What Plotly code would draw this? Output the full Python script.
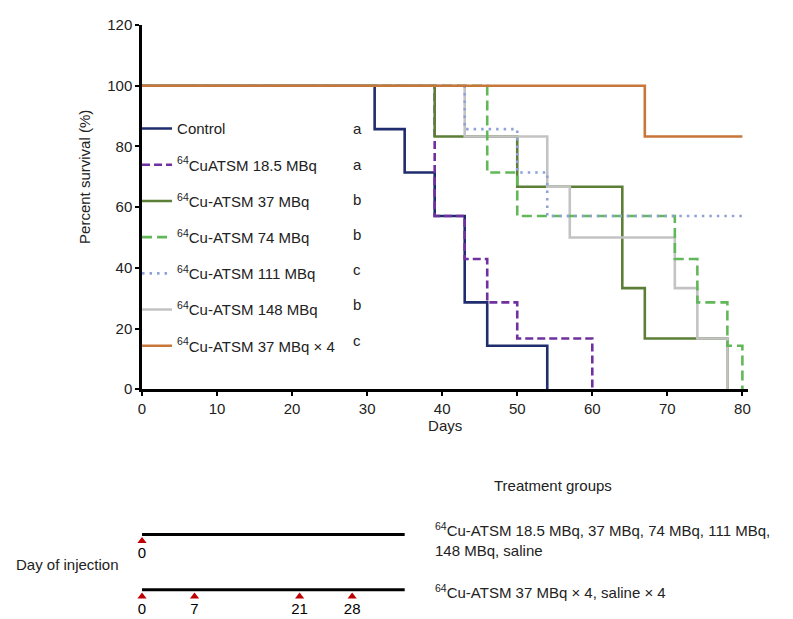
import plotly.graph_objects as go

# ── Survival data (step values) ──────────────────────────────────────────────

control_days = [0, 31, 35, 39, 43, 46, 54]
control_surv = [100, 85.7, 71.4, 57.1, 28.6, 14.3, 0]

cu18_days = [0, 39, 43, 46, 50, 60]
cu18_surv = [100, 57.1, 42.9, 28.6, 16.7, 0]

cu37_days = [0, 39, 50, 64, 67, 78]
cu37_surv = [100, 83.3, 66.7, 33.3, 16.7, 0]

cu74_days = [0, 46, 50, 71, 74, 78, 80]
cu74_surv = [100, 71.4, 57.1, 42.9, 28.6, 14.3, 0]

cu111_days = [0, 43, 50, 54, 80]
cu111_surv = [100, 85.7, 71.4, 57.1, 57.1]

cu148_days = [0, 43, 54, 57, 71, 74, 78]
cu148_surv = [100, 83.3, 66.7, 50, 33.3, 16.7, 0]

cu37x4_days = [0, 67, 80]
cu37x4_surv = [100, 83.3, 83.3]

# significance letters, in legend order
sig_letters = ["a", "a", "b", "b", "c", "b", "c"]

# injection schedule (days)
single_inj_days = [0]
repeat_inj_days = [0, 7, 21, 28]
schedule_end = 35

W, H = 793, 619
FONT = "Liberation Sans, Arial, sans-serif"


def px_x(p):
    return p / W


def px_y(p):
    return 1 - p / H


# ── Series (drawing order: later traces on top) ──────────────────────────────

series = [
    # name, days, surv, color, dash, legend rank
    ("Control", control_days, control_surv, "#1f2c6d", "solid", 1),
    ("<sup>64</sup>CuATSM 18.5 MBq", cu18_days, cu18_surv, "#7030a0", "8px,4px", 2),
    ("<sup>64</sup>Cu-ATSM 37 MBq", cu37_days, cu37_surv, "#5b7f36", "solid", 3),
    ("<sup>64</sup>Cu-ATSM 148 MBq", cu148_days, cu148_surv, "#c3c3c3", "solid", 6),
    ("<sup>64</sup>Cu-ATSM 74 MBq", cu74_days, cu74_surv, "#62b858", "10px,5px", 4),
    ("<sup>64</sup>Cu-ATSM 111 MBq", cu111_days, cu111_surv, "#8fa2d8", "2.5px,5px", 5),
    ("<sup>64</sup>Cu-ATSM 37 MBq × 4", cu37x4_days, cu37x4_surv, "#c8763a", "solid", 7),
]

fig = go.Figure()
for name, days, surv, color, dash, rank in series:
    fig.add_trace(go.Scatter(
        x=days, y=surv, mode="lines", name=name,
        line=dict(color=color, width=2.6, dash=dash, shape="hv"),
        legendrank=rank, legendgroup=name,
        xaxis="x", yaxis="y",
    ))

# ── Injection schedule panel ─────────────────────────────────────────────────

schedules = [(1, single_inj_days), (0, repeat_inj_days)]
for row, inj in schedules:
    fig.add_trace(go.Scatter(
        x=[0, schedule_end], y=[row, row], mode="lines",
        line=dict(color="black", width=3), showlegend=False,
        xaxis="x2", yaxis="y2", hoverinfo="skip",
    ))
    fig.add_trace(go.Scatter(
        x=inj, y=[row - 0.12] * len(inj), mode="markers+text",
        marker=dict(symbol="triangle-up", size=8, color="#c00000"),
        text=[str(d) for d in inj], textposition="bottom center",
        textfont=dict(size=15, color="black", family=FONT),
        showlegend=False, xaxis="x2", yaxis="y2", cliponaxis=False,
    ))

# ── Layout ───────────────────────────────────────────────────────────────────

axis_common = dict(
    showline=True, linecolor="black", linewidth=2.5, mirror=False,
    showgrid=False, zeroline=False, ticks="outside", ticklen=4,
    tickwidth=2, tickcolor="black", ticklabeloverflow="allow",
    tickfont=dict(size=15, color="#222", family=FONT),
)

fig.update_layout(
    width=W, height=H,
    margin=dict(l=0, r=0, t=0, b=0),
    paper_bgcolor="white", plot_bgcolor="white",
    font=dict(family=FONT, size=15, color="#222"),
    xaxis=dict(
        domain=[px_x(131), px_x(742)], range=[0, 80.8],
        tickvals=[0, 10, 20, 30, 40, 50, 60, 70, 80],
        title=dict(text="Days", font=dict(size=15), standoff=2),
        anchor="y", **axis_common,
    ),
    yaxis=dict(
        domain=[px_y(382.7), px_y(8.3)], range=[0, 120],
        tickvals=[0, 20, 40, 60, 80, 100, 120],
        anchor="x", **axis_common,
    ),
    xaxis2=dict(
        domain=[px_x(131), px_x(742)], range=[0, 80.8],
        visible=False, anchor="y2",
    ),
    yaxis2=dict(
        domain=[0, px_y(519)], range=[-0.526, 1.228],
        visible=False, anchor="x2",
    ),
    legend=dict(
        x=px_x(126), y=px_y(98), xanchor="left", yanchor="top",
        bgcolor="rgba(0,0,0,0)", tracegroupgap=13.7,
        font=dict(size=15, color="#222", family=FONT),
        itemwidth=30,
    ),
    showlegend=True,
)

annotations = [
    dict(text="Percent survival (%)", x=px_x(73), y=px_y(164),
         textangle=-90, font=dict(size=15)),
    dict(text="Treatment groups", x=px_x(545), y=px_y(482),
         font=dict(size=15)),
    dict(text="Day of injection", x=px_x(2), y=px_y(563), xanchor="left",
         font=dict(size=15)),
    dict(text="<sup>64</sup>Cu-ATSM 18.5 MBq, 37 MBq, 74 MBq, 111 MBq,<br>148 MBq, saline",
         x=px_x(424), y=px_y(537), xanchor="left", align="left",
         font=dict(size=15)),
    dict(text="<sup>64</sup>Cu-ATSM 37 MBq × 4, saline × 4",
         x=px_x(424), y=px_y(591), xanchor="left", align="left",
         font=dict(size=15)),
]
row_y0, row_gap = 115, 36.2
for i, letter in enumerate(sig_letters):
    annotations.append(dict(
        text=letter, x=px_x(348), y=px_y(row_y0 + i * row_gap),
        font=dict(size=15),
    ))

for a in annotations:
    a.update(xref="paper", yref="paper", showarrow=False)
    a.setdefault("xanchor", "center")
    a.setdefault("yanchor", "middle")
fig.update_layout(annotations=annotations)

fig.write_html("out.html")
